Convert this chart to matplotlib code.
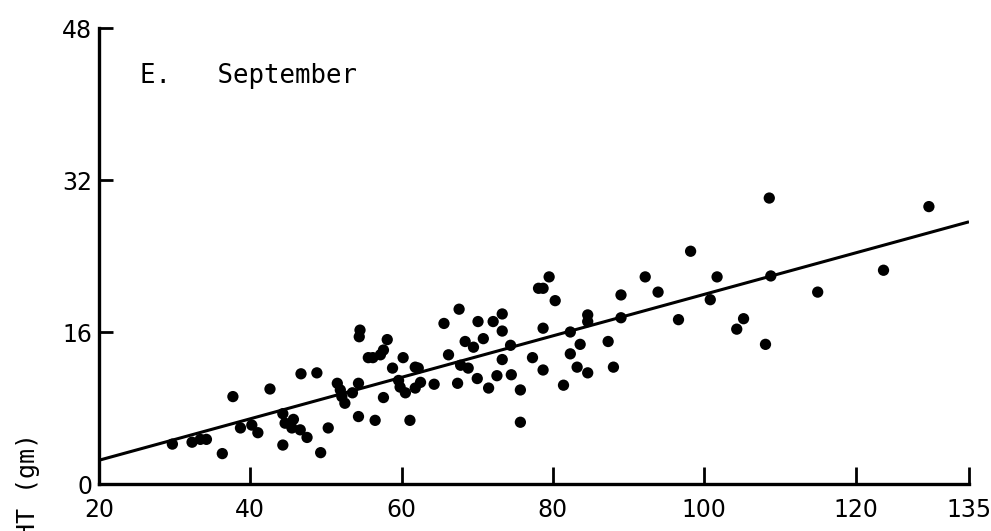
import matplotlib
matplotlib.use("Agg")
import matplotlib.pyplot as plt

# Data (x: length, y: weight in gm)
x_vals = [29.7, 32.3, 33.4, 34.2, 36.3, 37.7, 38.7, 40.2, 41.0, 42.6,
          44.3, 44.3, 44.6, 45.7, 45.5, 46.7, 46.6, 47.5, 48.8, 49.3,
          50.3, 51.5, 51.9, 52.1, 52.5, 53.5, 54.3, 54.3, 54.5, 54.4,
          55.6, 56.2, 56.5, 57.2, 57.6, 58.1, 57.6, 58.8, 59.6, 59.8,
          60.2, 60.5, 61.1, 61.8, 61.8, 62.5, 62.2, 64.3, 65.6, 66.2,
          67.4, 67.6, 67.8, 68.4, 68.8, 69.5, 70.0, 70.1, 70.8, 71.5,
          72.1, 73.3, 73.3, 72.6, 73.3, 74.4, 74.5, 75.7, 75.7, 77.3,
          78.1, 78.7, 79.5, 78.7, 78.7, 80.3, 81.4, 82.3, 82.3, 83.2,
          83.6, 84.6, 84.6, 84.6, 87.3, 88.0, 89.0, 89.0, 92.2, 93.9,
          98.2, 96.6, 100.8, 101.7, 104.3, 105.2, 108.1, 108.6, 108.8, 115.0,
          123.7, 129.7]
y_vals = [4.2, 4.4, 4.7, 4.7, 3.2, 9.2, 5.9, 6.2, 5.4, 10.0,
          4.1, 7.4, 6.4, 6.8, 5.9, 11.6, 5.7, 4.9, 11.7, 3.3,
          5.9, 10.6, 9.9, 9.2, 8.5, 9.6, 10.6, 7.1, 16.2, 15.5,
          13.3, 13.3, 6.7, 13.6, 14.1, 15.2, 9.1, 12.2, 10.9, 10.2,
          13.3, 9.6, 6.7, 12.3, 10.1, 10.7, 12.2, 10.5, 16.9, 13.6,
          10.6, 18.4, 12.5, 15.0, 12.2, 14.4, 11.1, 17.1, 15.3, 10.1,
          17.1, 17.9, 16.1, 11.4, 13.1, 14.6, 11.5, 9.9, 6.5, 13.3,
          20.6, 20.6, 21.8, 12.0, 16.4, 19.3, 10.4, 16.0, 13.7, 12.3,
          14.7, 11.7, 17.8, 17.1, 15.0, 12.3, 19.9, 17.5, 21.8, 20.2,
          24.5, 17.3, 19.4, 21.8, 16.3, 17.4, 14.7, 30.1, 21.9, 20.2,
          22.5, 29.2]

fit_x = [20, 135]
fit_y = [2.5, 27.6]

x_ticks = [20, 40, 60, 80, 100, 120, 135]
y_ticks = [0, 16, 32, 48]

fig = plt.figure(figsize=(9.91, 5.31), dpi=100)
ax = fig.add_axes([99 / 991, 1 - 484 / 531, (969 - 99) / 991, (484 - 28) / 531])

ax.scatter(x_vals, y_vals, s=66, color="black", edgecolors="none", zorder=3, clip_on=False)
ax.plot(fit_x, fit_y, color="black", lw=2.2, solid_capstyle="butt", zorder=2)

ax.set_xlim(20, 135)
ax.set_ylim(0, 48)
for s in ("top", "right"):
    ax.spines[s].set_visible(False)
for s in ("left", "bottom"):
    ax.spines[s].set_linewidth(2.4)
    ax.spines[s].set_color("black")

ax.set_xticks(x_ticks)
ax.set_yticks(y_ticks)
ax.set_xticklabels([str(v) for v in x_ticks])
ax.set_yticklabels([str(v) for v in y_ticks])
ax.tick_params(axis="x", direction="in", length=12, width=2, pad=10,
               labelsize=17, colors="black")
ax.tick_params(axis="y", direction="in", length=10, width=2, pad=5,
               labelsize=17, colors="black")

ax.text(140 / 991, 1 - 76 / 531, "E.   September", transform=fig.transFigure,
        family="DejaVu Sans Mono", fontsize=18.5, ha="left", va="center",
        color="black")

fig.text(28 / 991, 1 - 433 / 531, "WEIGHT (gm)", rotation=90,
         family="DejaVu Sans Mono", ha="center", va="top", fontsize=18,
         color="black")

fig.savefig("out.png", dpi=100, facecolor="white")
